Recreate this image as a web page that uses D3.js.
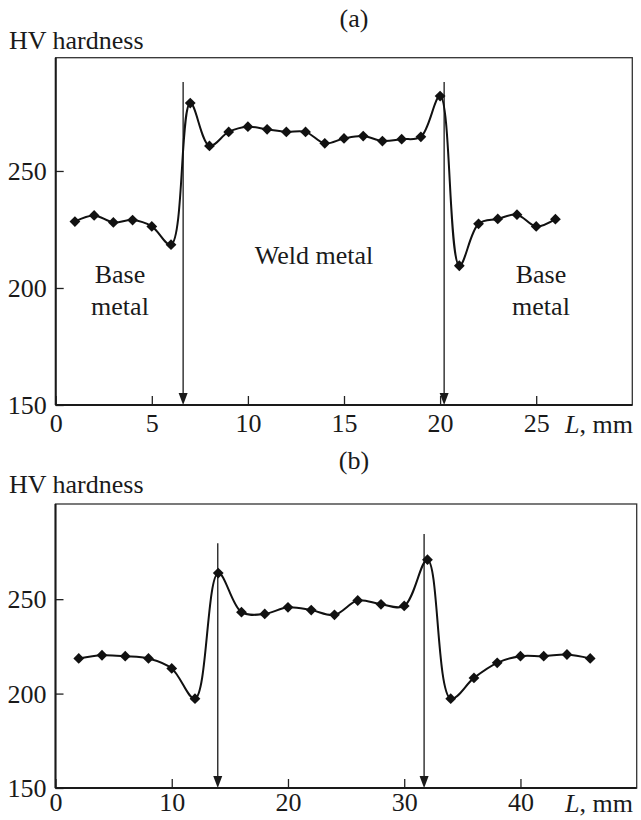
<!DOCTYPE html>
<html>
<head>
<meta charset="utf-8">
<script src="https://cdn.jsdelivr.net/npm/d3@7"></script>
<style>
  html, body { margin: 0; padding: 0; background: #fff; }
  svg text { font-family: "Liberation Serif", "DejaVu Serif", serif; fill: #1a1a1a; }
</style>
</head>
<body>
<svg id="chart" width="641" height="820"></svg>
<script>
// ---- data ----
const topL  = [1,2,3,4,5,6,7,8,9,10,11,12,13,14,15,16,17,18,19,20,21,22,23,24,25,26];
const topHV = [228.4,231,228,229,226.3,218.5,279,260.7,266.7,268.9,267.8,266.7,266.7,261.8,
               263.9,264.9,262.8,263.6,264.6,282,209.5,227.4,229.5,231.3,226.3,229.4];
const topBoundaries = [6.63, 20.21];
const topBoundaryTop = 288;
const topXTicks = [0,5,10,15,20,25];

const botL  = [2,4,6,8,10,12,14,16,18,20,22,24,26,28,30,32,34,36,38,40,42,44,46];
const botHV = [218.6,220.3,219.8,218.6,213.3,197.3,263.8,243.1,242.2,245.7,244.2,241.7,
               249.3,247.3,246.4,270.9,197.3,208.3,216.3,219.8,219.8,220.7,218.6];
const botBoundaries = [13.96, 31.71];
const botBoundaryTops = [279.6, 284.5];
const botXTicks = [0,10,20,30,40];

const yTicks = [150,200,250];
const panelLabels = ["(a)", "(b)"];
const yTitle = "HV hardness";
const regionText = {left: ["Base","metal"], mid: ["Weld metal"], right: ["Base","metal"]};

// ---- drawing ----
const svg = d3.select("#chart");
const FS = 26;

function panel(cfg) {
  const x = d3.scaleLinear().domain(cfg.xDomain).range([cfg.left, cfg.right]);
  const y = d3.scaleLinear().domain(cfg.yDomain).range([cfg.bottom, cfg.top]);
  const g = svg.append("g");

  // panel label & y title
  g.append("text").attr("x", cfg.labelX).attr("y", cfg.labelY)
    .attr("text-anchor", "middle").attr("font-size", FS).text(cfg.label);
  g.append("text").attr("x", 9).attr("y", cfg.titleY)
    .attr("font-size", FS).text(yTitle);

  // frame (top/right thin)
  g.append("rect").attr("x", cfg.left).attr("y", cfg.top)
    .attr("width", cfg.right - cfg.left).attr("height", cfg.bottom - cfg.top)
    .attr("fill", "none").attr("stroke", "#333").attr("stroke-width", 1.3);

  // axes
  const xa = d3.axisBottom(x).tickValues(cfg.xTicks).tickSizeInner(-9).tickSizeOuter(0).tickPadding(cfg.xPad)
    .tickFormat(d3.format("d"));
  const gx = g.append("g").attr("transform", `translate(0,${cfg.bottom})`).call(xa);
  const ya = d3.axisLeft(y).tickValues(yTicks).tickSizeInner(-8).tickSizeOuter(0).tickPadding(9);
  const gy = g.append("g").attr("transform", `translate(${cfg.left},0)`).call(ya);
  [gx, gy].forEach(a => {
    a.select(".domain").remove();
    a.selectAll(".tick line").attr("stroke", "#222").attr("stroke-width", 1.3);
    a.selectAll(".tick text").attr("font-size", FS).attr("font-family", "Liberation Serif").attr("fill", "#1a1a1a");
  });
  gy.selectAll(".tick text").attr("dy", "0.33em");
  // thicker left & bottom axis lines
  g.append("line").attr("x1", cfg.left).attr("x2", cfg.right).attr("y1", cfg.bottom).attr("y2", cfg.bottom)
    .attr("stroke", "#1a1a1a").attr("stroke-width", 2);
  g.append("line").attr("x1", cfg.left).attr("x2", cfg.left).attr("y1", cfg.top).attr("y2", cfg.bottom)
    .attr("stroke", "#1a1a1a").attr("stroke-width", 2);

  // L, mm label
  const lt = g.append("text").attr("x", 565).attr("y", cfg.bottom + cfg.xPad + 18.5).attr("font-size", FS);
  lt.append("tspan").attr("font-style", "italic").text("L");
  lt.append("tspan").text(", mm");

  // boundary arrows
  cfg.boundaries.forEach((b, i) => {
    const bx = x(b), y0 = y(cfg.boundaryTops[i]), y1 = y(cfg.yDomain[0]);
    g.append("line").attr("x1", bx).attr("x2", bx).attr("y1", y0).attr("y2", y1 - 8)
      .attr("stroke", "#1a1a1a").attr("stroke-width", 1.3);
    g.append("path").attr("d", `M${bx - 4.5},${y1 - 12}L${bx + 4.5},${y1 - 12}L${bx},${y1}Z`)
      .attr("fill", "#1a1a1a");
  });

  // curve
  const line = d3.line().x((d, i) => x(cfg.L[i])).y(d => y(d)).curve(d3.curveCatmullRom.alpha(0.5));
  g.append("path").datum(cfg.HV).attr("d", line).attr("fill", "none")
    .attr("stroke", "#111").attr("stroke-width", 2);

  // markers
  const sym = d3.symbol().type(d3.symbolSquare).size(58);
  g.selectAll("path.mk").data(cfg.HV).join("path").attr("class", "mk")
    .attr("d", sym)
    .attr("transform", (d, i) => `translate(${x(cfg.L[i])},${y(d)}) rotate(45)`)
    .attr("fill", "#111");

  return {x, y, g};
}

const A = panel({
  xDomain: [0, 30], yDomain: [150, 298.4],
  left: 55.7, right: 632.3, top: 57.7, bottom: 405, xPad: 9,
  xTicks: topXTicks, L: topL, HV: topHV,
  boundaries: topBoundaries, boundaryTops: [topBoundaryTop, topBoundaryTop],
  label: panelLabels[0], labelX: 354, labelY: 27, titleY: 49
});

// region labels in panel (a)
function block(lines, cx, baseY) {
  lines.forEach((t, i) => {
    A.g.append("text").attr("x", cx).attr("y", baseY + i * 31.7)
      .attr("text-anchor", "middle").attr("font-size", FS).text(t);
  });
}
block(regionText.left, 120, 283);
block(regionText.mid, 314, 264);
block(regionText.right, 541, 283);

panel({
  xDomain: [0, 50], yDomain: [150, 300.4],
  left: 55.5, right: 636.7, top: 504, bottom: 788, xPad: 5,
  xTicks: botXTicks, L: botL, HV: botHV,
  boundaries: botBoundaries, boundaryTops: botBoundaryTops,
  label: panelLabels[1], labelX: 354, labelY: 469, titleY: 492.7
});
</script>
</body>
</html>
